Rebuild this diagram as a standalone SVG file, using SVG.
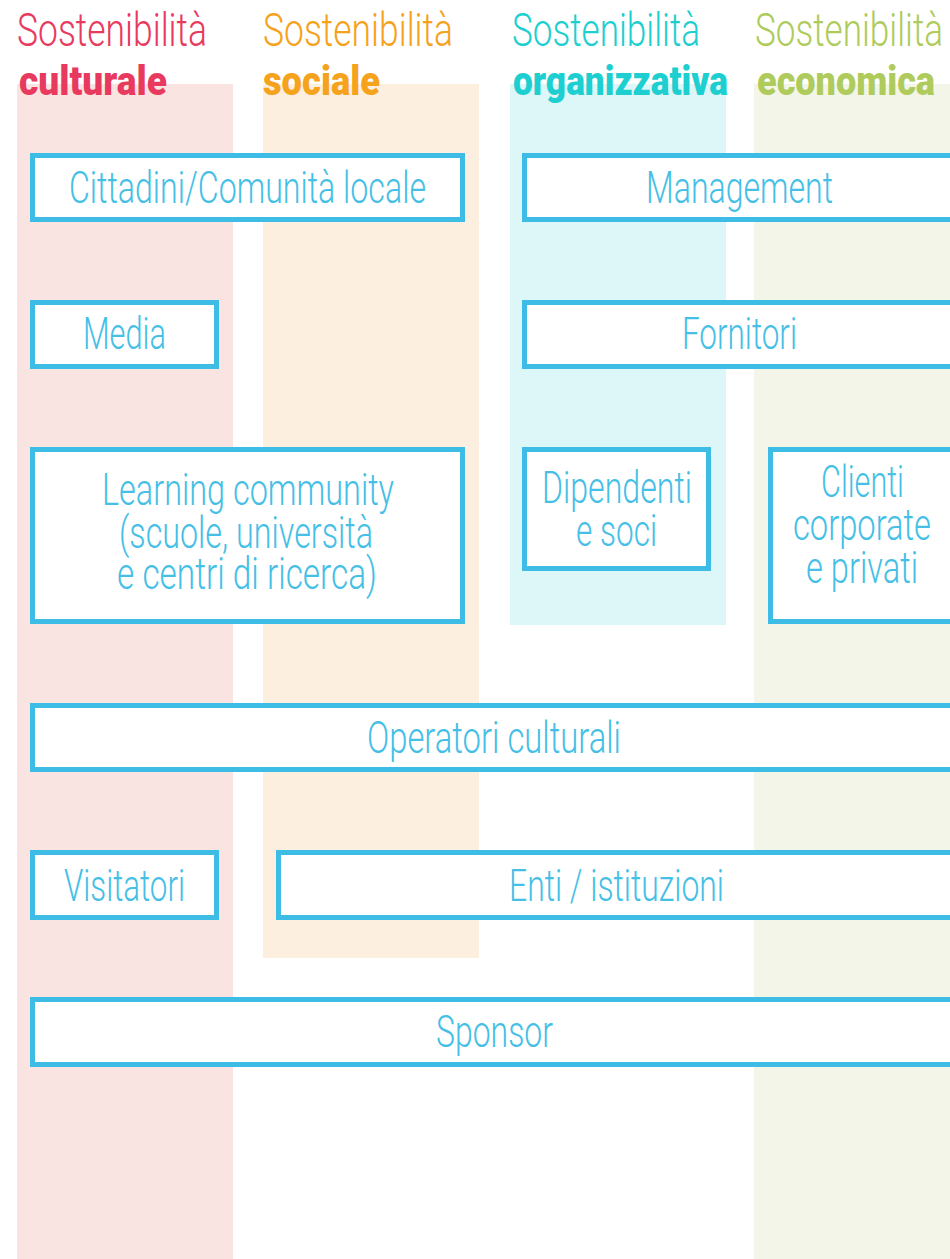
<svg xmlns="http://www.w3.org/2000/svg" width="950" height="1259" viewBox="0 0 950 1259">
<style>
.band{stroke:none}
.box{fill:#ffffff;stroke:#3DBDE6;stroke-width:5}
.lbl{font-family:Roboto,"Liberation Sans",sans-serif;font-weight:300;font-size:44px;fill:#45BFE6;text-anchor:middle}
.hl{font-family:Roboto,"Liberation Sans",sans-serif;font-weight:300;font-size:46px}
.hb{font-family:Roboto,"Liberation Sans",sans-serif;font-weight:900;font-size:41px}
</style>
<rect width="950" height="1259" fill="#ffffff"/>
<g id="bands">
<rect class="band" x="17" y="84" width="216" height="1175" fill="#FAE4E2"/>
<rect class="band" x="263" y="84" width="216" height="874" fill="#FDEFDF"/>
<rect class="band" x="510" y="84" width="216" height="541" fill="#DDF6F7"/>
<rect class="band" x="754" y="84" width="196" height="1175" fill="#F2F5E8"/>
</g>
<g id="headers">
<text class="hl" x="17" y="46" fill="#E83A5E" textLength="190" lengthAdjust="spacingAndGlyphs">Sostenibilità</text>
<text class="hb" x="19" y="95" fill="#E83A5E" textLength="148" lengthAdjust="spacingAndGlyphs">culturale</text>
<text class="hl" x="263" y="46" fill="#F5A21C" textLength="190" lengthAdjust="spacingAndGlyphs">Sostenibilità</text>
<text class="hb" x="263" y="95" fill="#F5A21C" textLength="117" lengthAdjust="spacingAndGlyphs">sociale</text>
<text class="hl" x="512" y="46" fill="#1DCFD0" textLength="188" lengthAdjust="spacingAndGlyphs">Sostenibilità</text>
<text class="hb" x="513" y="95" fill="#1DCFD0" textLength="215" lengthAdjust="spacingAndGlyphs">organizzativa</text>
<text class="hl" x="755" y="46" fill="#AECB5B" textLength="188" lengthAdjust="spacingAndGlyphs">Sostenibilità</text>
<text class="hb" x="757" y="95" fill="#AECB5B" textLength="178" lengthAdjust="spacingAndGlyphs">economica</text>
</g>
<g id="connectors"></g>
<g id="cittadini">
<rect class="box" x="32.5" y="155.5" width="430" height="64"/>
<text class="lbl" x="247.5" y="203" textLength="357" lengthAdjust="spacingAndGlyphs">Cittadini/Comunità locale</text>
</g>
<g id="management">
<rect class="box" x="524.5" y="155.5" width="440" height="64"/>
<text class="lbl" x="739.5" y="203" textLength="187" lengthAdjust="spacingAndGlyphs">Management</text>
</g>
<g id="media">
<rect class="box" x="32.5" y="302.5" width="184" height="64"/>
<text class="lbl" x="124.5" y="349" textLength="83" lengthAdjust="spacingAndGlyphs">Media</text>
</g>
<g id="fornitori">
<rect class="box" x="524.5" y="302.5" width="440" height="64"/>
<text class="lbl" x="739.5" y="349" textLength="115" lengthAdjust="spacingAndGlyphs">Fornitori</text>
</g>
<g id="learning">
<rect class="box" x="32.5" y="449.5" width="430" height="172"/>
<text class="lbl" x="248" y="505" textLength="292" lengthAdjust="spacingAndGlyphs">Learning community</text>
<text class="lbl" x="246" y="548" textLength="254" lengthAdjust="spacingAndGlyphs">(scuole, università</text>
<text class="lbl" x="247" y="589" textLength="260" lengthAdjust="spacingAndGlyphs">e centri di ricerca)</text>
</g>
<g id="dipendenti">
<rect class="box" x="524.5" y="449.5" width="184" height="119"/>
<text class="lbl" x="617" y="503" textLength="150" lengthAdjust="spacingAndGlyphs">Dipendenti</text>
<text class="lbl" x="616.5" y="546" textLength="81" lengthAdjust="spacingAndGlyphs">e soci</text>
</g>
<g id="clienti">
<rect class="box" x="770.5" y="449.5" width="200" height="172"/>
<text class="lbl" x="862.5" y="497" textLength="83" lengthAdjust="spacingAndGlyphs">Clienti</text>
<text class="lbl" x="862" y="540" textLength="138" lengthAdjust="spacingAndGlyphs">corporate</text>
<text class="lbl" x="862" y="583" textLength="112" lengthAdjust="spacingAndGlyphs">e privati</text>
</g>
<g id="operatori">
<rect class="box" x="32.5" y="705.5" width="940" height="64"/>
<text class="lbl" x="494" y="753" textLength="254" lengthAdjust="spacingAndGlyphs">Operatori culturali</text>
</g>
<g id="visitatori">
<rect class="box" x="32.5" y="852.5" width="184" height="65"/>
<text class="lbl" x="124.5" y="901" textLength="121" lengthAdjust="spacingAndGlyphs">Visitatori</text>
</g>
<g id="enti">
<rect class="box" x="278.5" y="852.5" width="700" height="65"/>
<text class="lbl" x="616.5" y="901" textLength="215" lengthAdjust="spacingAndGlyphs">Enti / istituzioni</text>
</g>
<g id="sponsor">
<rect class="box" x="32.5" y="999.5" width="940" height="65"/>
<text class="lbl" x="494.5" y="1047" textLength="117" lengthAdjust="spacingAndGlyphs">Sponsor</text>
</g>
</svg>
